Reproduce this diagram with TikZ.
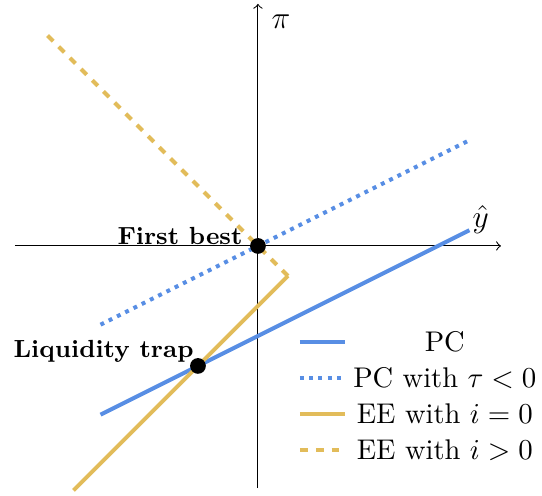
\documentclass[tikz,border=0pt]{standalone}
\definecolor{pcblue}{RGB}{88,142,228}
\definecolor{eegold}{RGB}{226,188,90}
\begin{document}
\begin{tikzpicture}[x=0.4cm, y=0.4cm, every node/.style={font=\fontsize{10.8}{13}\selectfont}, pc/.style={pcblue, line width=1.5pt}, ee/.style={eegold, line width=1.5pt}, eqdot/.style={circle, fill=black, inner sep=0pt, minimum size=0.21cm}, eqlabel/.style={anchor=base east, inner sep=0pt, font=\fontsize{9.4}{11}\selectfont\bfseries}, axlabel/.style={font=\fontsize{13}{15}\selectfont}]

        \useasboundingbox (-8.6, -8.33) rectangle (9.47, 8.2);

        % axes
        \draw[->] (-8.1, 0) -- (8.1, 0);
        \draw[->] (0, -8.07) -- (0, 8.07);
        \node[axlabel] at (7.43, 0.87) (yhat){$\hat{y}$};
        \node[axlabel] at (0.77, 7.47) (pi){$\pi$};

        % curves
        \draw[pc] (-5.25, -5.625) -- (7.05, 0.525);
        \draw[pc, dotted] (-5.25, -2.625) -- (7.05, 3.525);
        \draw[ee] (-6.15, -8.15) -- (1, -1);
        \draw[ee, dashed] (1, -1) -- (-7.05, 7.05);

        % equilibria
        \node[eqdot] at (0, 0) (fb){};
        \node[eqdot] at (-2, -4) (lt){};
        \node[eqlabel] at (-0.5, 0.05) (fblabel){First best};
        \node[eqlabel] at (-2.13, -3.73) (ltlabel){Liquidity trap};

        % legend
        \draw[pc] (1.4, -3.19) -- (2.9, -3.19);
        \draw[pc, dotted] (1.4, -4.4) -- (2.9, -4.4);
        \draw[ee] (1.4, -5.6) -- (2.9, -5.6);
        \draw[ee, dashed] (1.4, -6.8) -- (2.9, -6.8);
        \node at (6.23, -3.19) (leg1){PC};
        \node at (6.23, -4.4) (leg2){PC with $\tau < 0$};
        \node at (6.23, -5.6) (leg3){EE with $i = 0$};
        \node at (6.23, -6.8) (leg4){EE with $i > 0$};
\end{tikzpicture}
\end{document}
